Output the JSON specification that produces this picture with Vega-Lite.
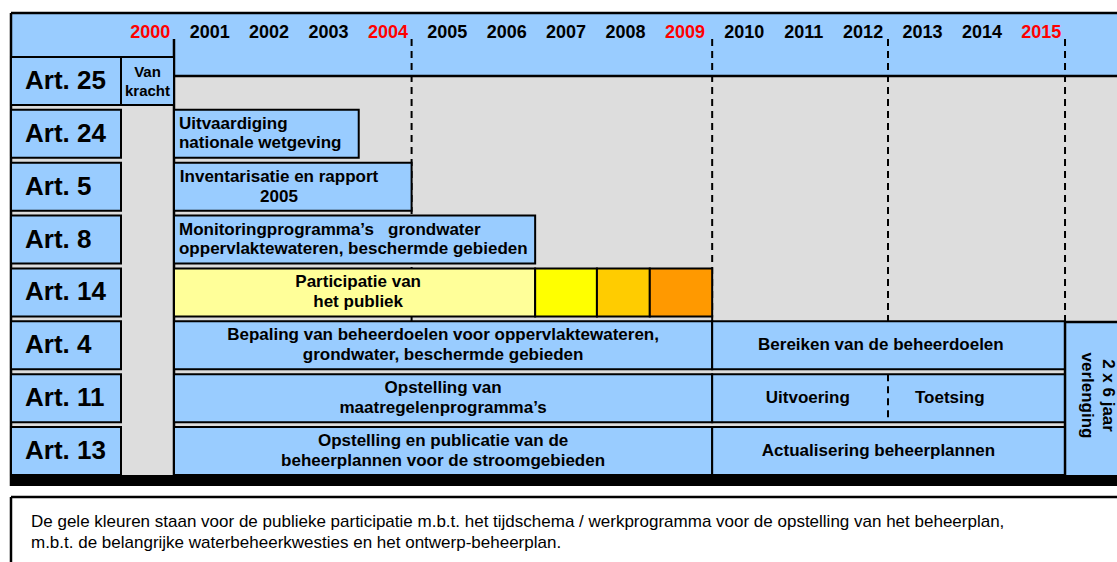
{
  "$schema": "https://vega.github.io/schema/vega-lite/v6.json",
  "width": 1117,
  "height": 562,
  "padding": 0,
  "autosize": {"type": "none"},
  "background": "#FFFFFF",
  "config": {"view": {"stroke": null}, "font": "Liberation Sans", "axis": {"disable": true}, "scale": {"continuousPadding": 0}},
  "datasets": {
    "vlakken_onder": [
      {"naam": "achtergrond", "x1": 1997.756, "x2": 2016.375, "y1": -1.2864, "y2": 7.6618, "kleur": "grijs"},
      {"naam": "kop", "x1": 1997.756, "x2": 2016.375, "y1": -1.2864, "y2": -0.0946, "kleur": "blauw"}
    ],
    "randen_onder": [
      {"naam": "bovenrand", "x1": 1997.756, "x2": 2016.375, "y1": -1.2864, "y2": -1.2864},
      {"naam": "linkerrand", "x1": 1997.756, "x2": 1997.756, "y1": -1.2864, "y2": 7.6618},
      {"naam": "onderrand kop", "x1": 2000.5, "x2": 2016.375, "y1": -0.0946, "y2": -0.0946},
      {"naam": "start 2001", "x1": 2000.5, "x2": 2000.5, "y1": -0.7946, "y2": 7.4537}
    ],
    "stippellijnen": [
      {"x1": 2004.5, "x2": 2004.5, "y1": -0.7946, "y2": 4.559},
      {"x1": 2009.56, "x2": 2009.56, "y1": -0.7946, "y2": 4.559},
      {"x1": 2012.52, "x2": 2012.52, "y1": -0.7946, "y2": 4.559},
      {"x1": 2015.5, "x2": 2015.5, "y1": -0.7946, "y2": 4.559}
    ],
    "balken": [
      {"artikel": "Art. 25", "rij": 0, "start": 1997.756, "eind": 1999.608, "kleur": "blauw"},
      {"artikel": "Art. 24", "rij": 1, "start": 1997.756, "eind": 1999.608, "kleur": "blauw"},
      {"artikel": "Art. 5", "rij": 2, "start": 1997.756, "eind": 1999.608, "kleur": "blauw"},
      {"artikel": "Art. 8", "rij": 3, "start": 1997.756, "eind": 1999.608, "kleur": "blauw"},
      {"artikel": "Art. 14", "rij": 4, "start": 1997.756, "eind": 1999.608, "kleur": "blauw"},
      {"artikel": "Art. 4", "rij": 5, "start": 1997.756, "eind": 1999.608, "kleur": "blauw"},
      {"artikel": "Art. 11", "rij": 6, "start": 1997.756, "eind": 1999.608, "kleur": "blauw"},
      {"artikel": "Art. 13", "rij": 7, "start": 1997.756, "eind": 1999.608, "kleur": "blauw"},
      {"artikel": "Art. 25", "rij": 0, "start": 1999.608, "eind": 2000.5, "kleur": "blauw"},
      {"artikel": "Art. 24", "rij": 1, "start": 2000.5, "eind": 2003.61, "kleur": "blauw"},
      {"artikel": "Art. 5", "rij": 2, "start": 2000.5, "eind": 2004.5, "kleur": "blauw"},
      {"artikel": "Art. 8", "rij": 3, "start": 2000.5, "eind": 2006.58, "kleur": "blauw"},
      {"artikel": "Art. 14", "rij": 4, "start": 2000.5, "eind": 2006.58, "kleur": "lichtgeel"},
      {"artikel": "Art. 14", "rij": 4, "start": 2006.58, "eind": 2007.62, "kleur": "geel"},
      {"artikel": "Art. 14", "rij": 4, "start": 2007.62, "eind": 2008.51, "kleur": "goud"},
      {"artikel": "Art. 14", "rij": 4, "start": 2008.51, "eind": 2009.56, "kleur": "oranje"},
      {"artikel": "Art. 4", "rij": 5, "start": 2000.5, "eind": 2009.56, "kleur": "blauw"},
      {"artikel": "Art. 4", "rij": 5, "start": 2009.56, "eind": 2015.5, "kleur": "blauw"},
      {"artikel": "Art. 11", "rij": 6, "start": 2000.5, "eind": 2009.56, "kleur": "blauw"},
      {"artikel": "Art. 11", "rij": 6, "start": 2009.56, "eind": 2015.5, "kleur": "blauw"},
      {"artikel": "Art. 13", "rij": 7, "start": 2000.5, "eind": 2009.56, "kleur": "blauw"},
      {"artikel": "Art. 13", "rij": 7, "start": 2009.56, "eind": 2015.5, "kleur": "blauw"}
    ],
    "scheiding": [
      {"x1": 2012.52, "x2": 2012.52, "y1": 5.546, "y2": 6.454}
    ],
    "vlakken_boven": [
      {"naam": "verlenging", "x1": 2015.5, "x2": 2016.375, "y1": 4.559, "y2": 7.4537, "kleur": "blauw"},
      {"naam": "voet", "x1": 1997.756, "x2": 2016.375, "y1": 7.4537, "y2": 7.6618, "kleur": "zwart"},
      {"naam": "noot", "x1": 1997.756, "x2": 2016.375, "y1": 7.8699, "y2": 9.0995, "kleur": "wit"}
    ],
    "randen_boven": [
      {"naam": "verlenging boven", "x1": 2015.5, "x2": 2016.375, "y1": 4.559, "y2": 4.559},
      {"naam": "verlenging links", "x1": 2015.5, "x2": 2015.5, "y1": 4.559, "y2": 7.4537},
      {"naam": "noot boven", "x1": 1997.756, "x2": 2016.375, "y1": 7.8699, "y2": 7.8699},
      {"naam": "noot links", "x1": 1997.756, "x2": 1997.756, "y1": 7.8699, "y2": 9.0995}
    ],
    "jaren": [
      {"jaar": 2000, "y": -0.9175, "mijlpaal": true},
      {"jaar": 2001, "y": -0.9175, "mijlpaal": false},
      {"jaar": 2002, "y": -0.9175, "mijlpaal": false},
      {"jaar": 2003, "y": -0.9175, "mijlpaal": false},
      {"jaar": 2004, "y": -0.9175, "mijlpaal": true},
      {"jaar": 2005, "y": -0.9175, "mijlpaal": false},
      {"jaar": 2006, "y": -0.9175, "mijlpaal": false},
      {"jaar": 2007, "y": -0.9175, "mijlpaal": false},
      {"jaar": 2008, "y": -0.9175, "mijlpaal": false},
      {"jaar": 2009, "y": -0.9175, "mijlpaal": true},
      {"jaar": 2010, "y": -0.9175, "mijlpaal": false},
      {"jaar": 2011, "y": -0.9175, "mijlpaal": false},
      {"jaar": 2012, "y": -0.9175, "mijlpaal": false},
      {"jaar": 2013, "y": -0.9175, "mijlpaal": false},
      {"jaar": 2014, "y": -0.9175, "mijlpaal": false},
      {"jaar": 2015, "y": -0.9175, "mijlpaal": true}
    ],
    "artikelen": [
      {"tekst": "Art. 25", "x": 1997.756, "rij": 0},
      {"tekst": "Art. 24", "x": 1997.756, "rij": 1},
      {"tekst": "Art. 5", "x": 1997.756, "rij": 2},
      {"tekst": "Art. 8", "x": 1997.756, "rij": 3},
      {"tekst": "Art. 14", "x": 1997.756, "rij": 4},
      {"tekst": "Art. 4", "x": 1997.756, "rij": 5},
      {"tekst": "Art. 11", "x": 1997.756, "rij": 6},
      {"tekst": "Art. 13", "x": 1997.756, "rij": 7}
    ],
    "vankracht": [
      {"tekst": "Van\nkracht", "x": 2000.054, "rij": 0}
    ],
    "teksten_links": [
      {"tekst": "Uitvaardiging\nnationale wetgeving", "x": 2000.5, "rij": 1},
      {"tekst": "Monitoringprogramma’s\u00a0\u00a0 grondwater\noppervlaktewateren, beschermde gebieden", "x": 2000.5, "rij": 3}
    ],
    "teksten_midden2": [
      {"tekst": "Inventarisatie en rapport\n2005", "x": 2002.268, "rij": 2},
      {"tekst": "Participatie van\nhet publiek", "x": 2003.6, "rij": 4},
      {"tekst": "Bepaling van beheerdoelen voor oppervlaktewateren,\ngrondwater, beschermde gebieden", "x": 2005.03, "rij": 5},
      {"tekst": "Opstelling van\nmaatregelenprogramma’s", "x": 2005.03, "rij": 6},
      {"tekst": "Opstelling en publicatie van de\nbeheerplannen voor de stroomgebieden", "x": 2005.03, "rij": 7}
    ],
    "teksten_midden1": [
      {"tekst": "Bereiken van de beheerdoelen", "x": 2012.4, "rij": 5},
      {"tekst": "Uitvoering", "x": 2011.17, "rij": 6},
      {"tekst": "Toetsing", "x": 2013.56, "rij": 6},
      {"tekst": "Actualisering beheerplannen", "x": 2012.36, "rij": 7}
    ],
    "verlengtekst": [
      {"tekst": "2 x 6 jaar\nverlenging", "x": 2016.047, "rij": 5.95}
    ],
    "noottekst": [
      {"tekst": "De gele kleuren staan voor de publieke participatie m.b.t. het tijdschema / werkprogramma voor de opstelling van het beheerplan,\nm.b.t. de belangrijke waterbeheerkwesties en het ontwerp-beheerplan.", "x": 1997.756, "rij": 8.5055}
    ]
  },
  "layer": [
    {
      "data": {"name": "vlakken_onder"},
      "mark": {"type": "rect", "strokeWidth": 0},
      "encoding": {
        "x": {"field": "x1", "type": "quantitative", "scale": {"domain": [1997.571, 2016.375], "nice": false, "zero": false, "padding": 0}, "axis": null},
        "x2": {"field": "x2"},
        "y": {"field": "y1", "type": "quantitative", "scale": {"domain": [-1.5324, 9.0995], "nice": false, "zero": false, "reverse": true, "padding": 0}, "axis": null},
        "y2": {"field": "y2"},
        "fill": {"field": "kleur", "type": "nominal", "legend": null, "scale": {"domain": ["blauw", "lichtgeel", "geel", "goud", "oranje", "grijs", "zwart", "wit"], "range": ["#99CCFF", "#FFFF99", "#FFFF00", "#FFCC00", "#FF9900", "#DDDDDD", "#000000", "#FFFFFF"]}}
      }
    },
    {
      "data": {"name": "randen_onder"},
      "mark": {"type": "rule", "color": "#000000", "strokeWidth": 2.5},
      "encoding": {
        "x": {"field": "x1", "type": "quantitative", "scale": {"domain": [1997.571, 2016.375], "nice": false, "zero": false, "padding": 0}, "axis": null},
        "x2": {"field": "x2"},
        "y": {"field": "y1", "type": "quantitative", "scale": {"domain": [-1.5324, 9.0995], "nice": false, "zero": false, "reverse": true, "padding": 0}, "axis": null},
        "y2": {"field": "y2"}
      }
    },
    {
      "data": {"name": "stippellijnen"},
      "mark": {"type": "rule", "color": "#000000", "strokeWidth": 2, "strokeDash": [7, 5]},
      "encoding": {
        "x": {"field": "x1", "type": "quantitative", "scale": {"domain": [1997.571, 2016.375], "nice": false, "zero": false, "padding": 0}, "axis": null},
        "x2": {"field": "x2"},
        "y": {"field": "y1", "type": "quantitative", "scale": {"domain": [-1.5324, 9.0995], "nice": false, "zero": false, "reverse": true, "padding": 0}, "axis": null},
        "y2": {"field": "y2"}
      }
    },
    {
      "data": {"name": "balken"},
      "mark": {"type": "bar", "orient": "horizontal", "height": 48, "stroke": "#000000", "strokeWidth": 2},
      "encoding": {
        "x": {"field": "start", "type": "quantitative", "scale": {"domain": [1997.571, 2016.375], "nice": false, "zero": false, "padding": 0}, "axis": null},
        "x2": {"field": "eind"},
        "y": {"field": "rij", "type": "quantitative", "scale": {"domain": [-1.5324, 9.0995], "nice": false, "zero": false, "reverse": true, "padding": 0}, "axis": null},
        "fill": {"field": "kleur", "type": "nominal", "legend": null}
      }
    },
    {
      "data": {"name": "scheiding"},
      "mark": {"type": "rule", "color": "#000000", "strokeWidth": 2, "strokeDash": [7, 5]},
      "encoding": {
        "x": {"field": "x1", "type": "quantitative", "scale": {"domain": [1997.571, 2016.375], "nice": false, "zero": false, "padding": 0}, "axis": null},
        "x2": {"field": "x2"},
        "y": {"field": "y1", "type": "quantitative", "scale": {"domain": [-1.5324, 9.0995], "nice": false, "zero": false, "reverse": true, "padding": 0}, "axis": null},
        "y2": {"field": "y2"}
      }
    },
    {
      "data": {"name": "vlakken_boven"},
      "mark": {"type": "rect", "strokeWidth": 0},
      "encoding": {
        "x": {"field": "x1", "type": "quantitative", "scale": {"domain": [1997.571, 2016.375], "nice": false, "zero": false, "padding": 0}, "axis": null},
        "x2": {"field": "x2"},
        "y": {"field": "y1", "type": "quantitative", "scale": {"domain": [-1.5324, 9.0995], "nice": false, "zero": false, "reverse": true, "padding": 0}, "axis": null},
        "y2": {"field": "y2"},
        "fill": {"field": "kleur", "type": "nominal", "legend": null}
      }
    },
    {
      "data": {"name": "randen_boven"},
      "mark": {"type": "rule", "color": "#000000", "strokeWidth": 2.5},
      "encoding": {
        "x": {"field": "x1", "type": "quantitative", "scale": {"domain": [1997.571, 2016.375], "nice": false, "zero": false, "padding": 0}, "axis": null},
        "x2": {"field": "x2"},
        "y": {"field": "y1", "type": "quantitative", "scale": {"domain": [-1.5324, 9.0995], "nice": false, "zero": false, "reverse": true, "padding": 0}, "axis": null},
        "y2": {"field": "y2"}
      }
    },
    {
      "data": {"name": "jaren"},
      "mark": {"type": "text", "fontSize": 18, "fontWeight": "bold", "align": "center", "baseline": "middle", "dx": 6},
      "encoding": {
        "x": {"field": "jaar", "type": "quantitative", "scale": {"domain": [1997.571, 2016.375], "nice": false, "zero": false, "padding": 0}, "axis": null},
        "y": {"field": "y", "type": "quantitative", "scale": {"domain": [-1.5324, 9.0995], "nice": false, "zero": false, "reverse": true, "padding": 0}, "axis": null},
        "text": {"field": "jaar", "type": "nominal"},
        "color": {"condition": {"test": "datum.mijlpaal", "value": "#FF0000"}, "value": "#000000"}
      }
    },
    {
      "data": {"name": "artikelen"},
      "mark": {"type": "text", "fontSize": 26, "fontWeight": "bold", "align": "left", "baseline": "middle", "dx": 14, "color": "#000000"},
      "encoding": {
        "x": {"field": "x", "type": "quantitative", "scale": {"domain": [1997.571, 2016.375], "nice": false, "zero": false, "padding": 0}, "axis": null},
        "y": {"field": "rij", "type": "quantitative", "scale": {"domain": [-1.5324, 9.0995], "nice": false, "zero": false, "reverse": true, "padding": 0}, "axis": null},
        "text": {"field": "tekst", "type": "nominal"}
      }
    },
    {
      "data": {"name": "vankracht"},
      "mark": {"type": "text", "fontSize": 15, "fontWeight": "bold", "align": "center", "baseline": "middle", "lineBreak": "\n", "lineHeight": 19, "dy": -9.5, "color": "#000000"},
      "encoding": {
        "x": {"field": "x", "type": "quantitative", "scale": {"domain": [1997.571, 2016.375], "nice": false, "zero": false, "padding": 0}, "axis": null},
        "y": {"field": "rij", "type": "quantitative", "scale": {"domain": [-1.5324, 9.0995], "nice": false, "zero": false, "reverse": true, "padding": 0}, "axis": null},
        "text": {"field": "tekst", "type": "nominal"}
      }
    },
    {
      "data": {"name": "teksten_links"},
      "mark": {"type": "text", "fontSize": 17, "fontWeight": "bold", "align": "left", "baseline": "middle", "lineBreak": "\n", "lineHeight": 19, "dx": 5, "dy": -9.5, "color": "#000000"},
      "encoding": {
        "x": {"field": "x", "type": "quantitative", "scale": {"domain": [1997.571, 2016.375], "nice": false, "zero": false, "padding": 0}, "axis": null},
        "y": {"field": "rij", "type": "quantitative", "scale": {"domain": [-1.5324, 9.0995], "nice": false, "zero": false, "reverse": true, "padding": 0}, "axis": null},
        "text": {"field": "tekst", "type": "nominal"}
      }
    },
    {
      "data": {"name": "teksten_midden2"},
      "mark": {"type": "text", "fontSize": 17, "fontWeight": "bold", "align": "center", "baseline": "middle", "lineBreak": "\n", "lineHeight": 20, "dy": -10, "color": "#000000"},
      "encoding": {
        "x": {"field": "x", "type": "quantitative", "scale": {"domain": [1997.571, 2016.375], "nice": false, "zero": false, "padding": 0}, "axis": null},
        "y": {"field": "rij", "type": "quantitative", "scale": {"domain": [-1.5324, 9.0995], "nice": false, "zero": false, "reverse": true, "padding": 0}, "axis": null},
        "text": {"field": "tekst", "type": "nominal"}
      }
    },
    {
      "data": {"name": "teksten_midden1"},
      "mark": {"type": "text", "fontSize": 17, "fontWeight": "bold", "align": "center", "baseline": "middle", "color": "#000000"},
      "encoding": {
        "x": {"field": "x", "type": "quantitative", "scale": {"domain": [1997.571, 2016.375], "nice": false, "zero": false, "padding": 0}, "axis": null},
        "y": {"field": "rij", "type": "quantitative", "scale": {"domain": [-1.5324, 9.0995], "nice": false, "zero": false, "reverse": true, "padding": 0}, "axis": null},
        "text": {"field": "tekst", "type": "nominal"}
      }
    },
    {
      "data": {"name": "verlengtekst"},
      "mark": {"type": "text", "fontSize": 17, "fontWeight": "bold", "align": "center", "baseline": "middle", "angle": 90, "lineBreak": "\n", "lineHeight": 21, "dy": -10.5, "color": "#000000"},
      "encoding": {
        "x": {"field": "x", "type": "quantitative", "scale": {"domain": [1997.571, 2016.375], "nice": false, "zero": false, "padding": 0}, "axis": null},
        "y": {"field": "rij", "type": "quantitative", "scale": {"domain": [-1.5324, 9.0995], "nice": false, "zero": false, "reverse": true, "padding": 0}, "axis": null},
        "text": {"field": "tekst", "type": "nominal"}
      }
    },
    {
      "data": {"name": "noottekst"},
      "mark": {"type": "text", "fontSize": 17, "fontWeight": "normal", "align": "left", "baseline": "middle", "lineBreak": "\n", "lineHeight": 21, "dx": 20, "dy": -9, "color": "#000000"},
      "encoding": {
        "x": {"field": "x", "type": "quantitative", "scale": {"domain": [1997.571, 2016.375], "nice": false, "zero": false, "padding": 0}, "axis": null},
        "y": {"field": "rij", "type": "quantitative", "scale": {"domain": [-1.5324, 9.0995], "nice": false, "zero": false, "reverse": true, "padding": 0}, "axis": null},
        "text": {"field": "tekst", "type": "nominal"}
      }
    }
  ]
}
